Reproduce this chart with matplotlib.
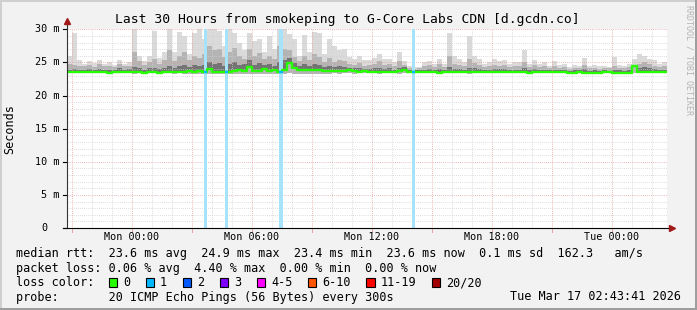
import numpy as np
import matplotlib

matplotlib.use("Agg")
import matplotlib.pyplot as plt
from matplotlib.patches import Rectangle
from matplotlib.transforms import blended_transform_factory

W, H = 697, 310

TITLE = "Last 30 Hours from smokeping to G-Core Labs CDN [d.gcdn.co]"
WATERMARK = "RRDTOOL / TOBI OETIKER"
Y_LABEL = "Seconds"

X_TICK_HOURS = [0, 6, 12, 18, 24]
X_TICK_LABELS = ["Mon 00:00", "Mon 06:00", "Mon 12:00", "Mon 18:00", "Tue 00:00"]
Y_TICKS = [0, 5, 10, 15, 20, 25, 30]
Y_TICK_LABELS = ["0", "5 m", "10 m", "15 m", "20 m", "25 m", "30 m"]

# hours relative to Mon 00:00, one sample every 15 minutes
START_HOUR = -3.25
STEP_HOURS = 0.25

# median rtt (ms)
MEDIAN = [
    23.6, 23.6, 23.6, 23.6, 23.6, 23.6, 23.6, 23.6, 23.45, 23.6, 23.6, 23.6,
    23.6, 23.6, 23.6, 23.45, 23.6, 23.6, 23.45, 23.6, 23.6, 23.6, 23.6, 23.6,
    23.65, 23.6, 23.7, 23.6, 23.95, 23.6, 23.55, 23.6, 23.6, 23.7, 23.9, 23.65,
    24.3, 23.7, 23.75, 24.05, 23.7, 23.8, 23.6, 23.9, 24.9, 24.1, 23.9, 23.85,
    23.9, 23.8, 23.9, 23.75, 23.7, 23.75, 23.7, 23.65, 23.8, 23.7, 23.6, 23.65,
    23.6, 23.6, 23.6, 23.6, 23.6, 23.6, 23.65, 23.8, 23.6, 23.6, 23.6, 23.55,
    23.6, 23.6, 23.45, 23.6, 23.6, 23.6, 23.6, 23.6, 23.5, 23.6, 23.6, 23.6,
    23.6, 23.6, 23.6, 23.6, 23.6, 23.6, 23.6, 23.6, 23.45, 23.6, 23.6, 23.6,
    23.6, 23.6, 23.6, 23.6, 23.4, 23.45, 23.6, 23.4, 23.4, 23.45, 23.4, 23.6,
    23.6, 23.4, 23.45, 23.4, 23.4, 24.4, 23.6, 23.6, 23.6, 23.6, 23.6, 23.6,
]

# smoke: lowest ping, upper edge of dark / medium shade, highest ping (ms)
SMOKE_MIN = [
    23.35, 23.35, 23.4, 23.35, 23.35, 23.4, 23.35, 23.35, 23.3, 23.35, 23.35, 23.4,
    23.35, 23.3, 23.35, 23.3, 23.35, 23.35, 23.3, 23.35, 23.35, 23.3, 23.35, 23.3,
    23.3, 23.3, 23.25, 23.3, 23.3, 23.25, 23.3, 23.3, 23.3, 23.25, 23.3, 23.3,
    23.3, 23.25, 23.3, 23.3, 23.25, 23.3, 23.3, 23.3, 23.35, 23.3, 23.3, 23.25,
    23.3, 23.3, 23.3, 23.3, 23.3, 23.35, 23.3, 23.35, 23.35, 23.3, 23.35, 23.35,
    23.35, 23.35, 23.3, 23.35, 23.35, 23.35, 23.3, 23.35, 23.35, 23.35, 23.4, 23.35,
    23.35, 23.35, 23.3, 23.35, 23.35, 23.35, 23.35, 23.35, 23.3, 23.35, 23.35, 23.35,
    23.35, 23.35, 23.35, 23.35, 23.35, 23.35, 23.35, 23.35, 23.3, 23.35, 23.35, 23.35,
    23.35, 23.35, 23.35, 23.35, 23.25, 23.3, 23.35, 23.25, 23.25, 23.3, 23.25, 23.35,
    23.35, 23.25, 23.3, 23.25, 23.25, 23.35, 23.35, 23.35, 23.35, 23.35, 23.35, 23.35,
]
SMOKE_DARK = [
    23.9, 24.0, 23.9, 23.8, 24.0, 23.9, 24.0, 23.9, 23.9, 23.8, 24.1, 23.9,
    24.0, 24.3, 24.1, 23.9, 24.1, 24.2, 24.0, 24.1, 24.4, 24.2, 24.4, 24.6,
    24.3, 24.6, 24.5, 24.6, 25.0, 24.8, 24.9, 24.5, 24.8, 25.0, 24.6, 24.7,
    25.3, 24.6, 24.9, 24.6, 24.8, 24.5, 25.1, 25.3, 25.6, 24.9, 24.5, 24.7,
    24.5, 24.8, 24.6, 24.3, 24.5, 24.3, 24.4, 24.3, 24.2, 24.1, 24.2, 24.0,
    24.0, 24.1, 24.2, 24.0, 24.1, 23.9, 24.2, 24.3, 23.9, 23.8, 23.8, 23.9,
    24.0, 23.9, 24.0, 23.8, 24.3, 24.0, 24.0, 23.9, 24.2, 24.1, 24.0, 23.9,
    23.9, 24.0, 24.0, 24.0, 23.8, 23.9, 23.9, 24.1, 23.8, 24.0, 23.8, 23.9,
    23.8, 23.9, 23.8, 23.8, 23.7, 23.8, 23.8, 24.0, 23.7, 23.8, 23.7, 23.8,
    23.7, 23.9, 23.8, 23.7, 23.8, 24.6, 24.2, 24.3, 24.1, 24.0, 23.9, 23.9,
]
SMOKE_MID = [
    24.8, 24.6, 24.5, 24.4, 24.6, 24.3, 24.7, 24.4, 24.5, 24.3, 24.8, 24.4,
    24.5, 26.5, 25.2, 24.6, 25.0, 25.5, 24.8, 25.3, 26.8, 25.2, 26.0, 26.5,
    25.4, 26.0, 25.6, 26.2, 27.5, 26.8, 27.0, 25.8, 26.5, 27.2, 25.9, 25.5,
    27.0, 26.0, 26.4, 25.5, 26.0, 25.5, 27.5, 27.0, 26.8, 25.8, 25.2, 26.0,
    25.3, 26.2, 25.8, 25.0, 25.6, 25.0, 25.3, 25.2, 24.8, 24.6, 24.9, 24.5,
    24.6, 24.7, 25.2, 24.6, 24.7, 24.5, 25.2, 24.6, 24.2, 24.0, 24.1, 24.5,
    24.6, 24.3, 24.7, 24.3, 26.0, 24.8, 24.6, 24.4, 25.5, 24.9, 24.6, 24.3,
    24.4, 24.6, 24.5, 24.6, 24.3, 24.4, 24.5, 25.0, 24.3, 24.6, 24.3, 24.4,
    24.2, 24.5, 24.2, 24.3, 24.0, 24.2, 24.2, 24.6, 24.1, 24.2, 24.0, 24.2,
    24.1, 24.5, 24.2, 24.1, 24.3, 24.6, 24.8, 25.0, 24.7, 24.5, 24.3, 24.4,
]
SMOKE_MAX = [
    25.9, 29.5, 25.3, 24.8, 25.2, 24.9, 25.3, 24.7, 25.0, 24.6, 25.4, 24.8,
    25.0, 30.5, 26.0, 25.2, 26.0, 29.8, 25.6, 26.5, 30.0, 26.5, 29.6, 29.0,
    26.2, 29.5, 30.0, 28.5, 30.5, 30.5, 29.7, 27.5, 30.0, 29.5, 28.0, 26.8,
    29.5, 28.2, 28.5, 26.5, 29.0, 27.0, 30.5, 30.2, 29.3, 28.5, 26.0, 29.2,
    26.5, 29.6, 29.5, 26.3, 28.5, 27.5, 26.8, 27.0, 25.8, 25.5, 26.0, 25.3,
    25.3, 25.6, 26.3, 25.5, 25.5, 25.0, 26.5, 25.2, 24.5, 24.3, 24.3, 25.0,
    25.2, 24.8, 25.5, 24.7, 29.5, 26.0, 25.5, 25.0, 29.0, 26.0, 25.5, 24.8,
    25.0, 25.5, 25.2, 25.3, 24.8, 25.0, 25.0, 26.8, 24.8, 25.3, 24.7, 25.0,
    24.5, 25.2, 24.6, 24.7, 24.3, 24.6, 24.5, 25.7, 24.5, 24.6, 24.4, 24.5,
    24.3, 25.8, 24.6, 24.4, 24.8, 25.5, 26.3, 26.0, 25.5, 25.3, 24.8, 25.0,
]

# packet loss events (1 of 20 lost)
LOSS_START_HOURS = [3.62, 4.67, 7.38, 14.02]
LOSS_MINUTES = [10, 10, 10, 10]

LOSS_LABELS = ["0", "1", "2", "3", "4-5", "6-10", "11-19", "20/20"]
LOSS_COLORS = ["#26ff00", "#00b8ff", "#0059ff", "#7e00ff",
               "#ff00fe", "#ff5500", "#ff0000", "#a10000"]

LEGEND_RTT = ("median rtt:  23.6 ms avg  24.9 ms max  23.4 ms min  "
              "23.6 ms now  0.1 ms sd  162.3   am/s")
LEGEND_LOSS = "packet loss: 0.06 % avg  4.40 % max  0.00 % min  0.00 % now"
LEGEND_PROBE = "probe:       20 ICMP Echo Pings (56 Bytes) every 300s"
STAMP = "Tue Mar 17 02:43:41 2026"

BACK = "#f2f2f2"
MONO = "DejaVu Sans Mono"

# plot area in pixels (from top-left)
PX_LEFT, PX_RIGHT, PX_TOP, PX_BOTTOM = 66.7, 666.7, 29.3, 228.0
CHAR_W = 7.12


def fx(x):
    return x / W


def fy(y):
    return 1 - y / H


plt.rcParams["font.family"] = MONO

fig = plt.figure(figsize=(W / 100, H / 100), dpi=100)
fig.patch.set_facecolor(BACK)

ax = fig.add_axes([fx(PX_LEFT), fy(PX_BOTTOM), (PX_RIGHT - PX_LEFT) / W,
                   (PX_BOTTOM - PX_TOP) / H])
ax.set_facecolor("white")
ax.set_xlim(START_HOUR, START_HOUR + 30)
ax.set_ylim(0, 30)
for side in ("top", "right", "left", "bottom"):
    ax.spines[side].set_visible(False)

# grid
for v in range(1, 31):
    major = v % 5 == 0
    ax.axhline(v, color="#e6a0a0" if major else "#cfcfcf", lw=0.7,
               ls=(0, (0.72, 1.44)), zorder=1.5)
for h in range(-3, 27):
    major = h % 3 == 0
    ax.axvline(h, color="#e6a0a0" if major else "#cfcfcf", lw=0.7,
               ls=(0, (0.72, 1.44)), zorder=1.5)

# smoke + median
n = len(MEDIAN)
t = START_HOUR + STEP_HOURS * np.arange(n + 1)


def ext(a):
    return np.append(a, a[-1])


ax.fill_between(t, ext(SMOKE_MIN), ext(SMOKE_MAX), step="post",
                color="#dadada", lw=0, zorder=1)
ax.fill_between(t, ext(SMOKE_MIN), ext(SMOKE_MID), step="post",
                color="#b4b4b4", lw=0, zorder=1.1)
ax.fill_between(t, ext(MEDIAN), ext(SMOKE_DARK), step="post",
                color="#747474", lw=0, zorder=1.2)

for start, minutes in zip(LOSS_START_HOURS, LOSS_MINUTES):
    ax.axvspan(start, start + minutes / 60, color="#a6e2fa", lw=0, zorder=2)

ax.step(t, ext(MEDIAN), where="post", color=LOSS_COLORS[0], lw=1.7, zorder=3)
for start, minutes in zip(LOSS_START_HOURS, LOSS_MINUTES):
    idx = int((start - START_HOUR) / STEP_HOURS)
    ax.hlines(MEDIAN[idx], start, start + minutes / 60, color=LOSS_COLORS[1],
              lw=1.7, zorder=3.1)

# axes lines, ticks, arrows
ax.set_xticks([])
ax.set_yticks([])
ax.plot([0, 0], [0, 1.035], transform=ax.transAxes, color="#333333", lw=0.8,
        clip_on=False, zorder=4)
ax.plot([-0.007, 1.005], [0, 0], transform=ax.transAxes, color="black", lw=0.8,
        clip_on=False, zorder=4)
ax.plot([0], [1.04], transform=ax.transAxes, marker="^", ms=4.5, color="#a01818",
        clip_on=False, zorder=5)
ax.plot([1.008], [0], transform=ax.transAxes, marker=">", ms=4.5, color="#a01818",
        clip_on=False, zorder=5)
for v in Y_TICKS:
    ax.plot([-0.007, 0], [v, v], transform=blended_transform_factory(ax.transAxes, ax.transData),
            color="black", lw=0.8, clip_on=False)
for h in range(-3, 27, 3):
    ax.plot([h, h], [0, -0.6], color="#e6a0a0", lw=0.7, clip_on=False)

# tick labels
for v, lab in zip(Y_TICKS, Y_TICK_LABELS):
    ypx = PX_BOTTOM - v * (PX_BOTTOM - PX_TOP) / 30
    xr = 59.8 if v else 59.8 - 2 * 6.1
    fig.text(fx(xr), fy(ypx), lab, ha="right", va="center", fontsize=7.3)
xtrans = blended_transform_factory(ax.transData, fig.transFigure)
for h, lab in zip(X_TICK_HOURS, X_TICK_LABELS):
    ax.text(h, fy(237.5), lab, transform=xtrans, ha="center", va="center",
            fontsize=7.3)

# titles
fig.text(fx(347.5), fy(20), TITLE, ha="center", va="center", fontsize=9.4)
fig.text(fx(10), fy((PX_TOP + PX_BOTTOM) / 2), Y_LABEL, rotation=90,
         ha="center", va="center", fontsize=8.5)
fig.text(fx(688.5), fy(60), WATERMARK, rotation=270, ha="center", va="center",
         fontsize=6.0, color="#b4b4b4")

# legend
fig.text(fx(16), fy(254), LEGEND_RTT, ha="left", va="center", fontsize=8.5)
fig.text(fx(16), fy(268.5), LEGEND_LOSS, ha="left", va="center", fontsize=8.5)
fig.text(fx(16), fy(282.5), "loss color:", ha="left", va="center", fontsize=8.5)
bx = 16 + 13 * CHAR_W
for lab, col in zip(LOSS_LABELS, LOSS_COLORS):
    fig.patches.append(Rectangle((fx(bx), fy(287)), 8.5 / W, 9.5 / H,
                                 transform=fig.transFigure, facecolor=col,
                                 edgecolor="black", lw=0.8))
    fig.text(fx(bx + 2 * CHAR_W), fy(282.5), lab, ha="left", va="center",
             fontsize=8.5)
    bx += 2.2 * CHAR_W + (len(lab) + 2) * CHAR_W
fig.text(fx(16), fy(297), LEGEND_PROBE, ha="left", va="center", fontsize=8.5)
fig.text(fx(680.5), fy(297), STAMP, ha="right", va="center", fontsize=8.5)

# 3d border
for x0, y0, w, h, c in [(0, 0, W, 2, "#cfcfcf"), (0, 0, 2, H, "#cfcfcf"),
                        (0, H - 2, W, 2, "#9e9e9e"), (W - 2, 0, 2, H, "#9e9e9e")]:
    fig.patches.append(Rectangle((fx(x0), fy(y0 + h)), w / W, h / H,
                                 transform=fig.transFigure, color=c, lw=0))

fig.savefig("out.png", dpi=100, facecolor=fig.get_facecolor())
